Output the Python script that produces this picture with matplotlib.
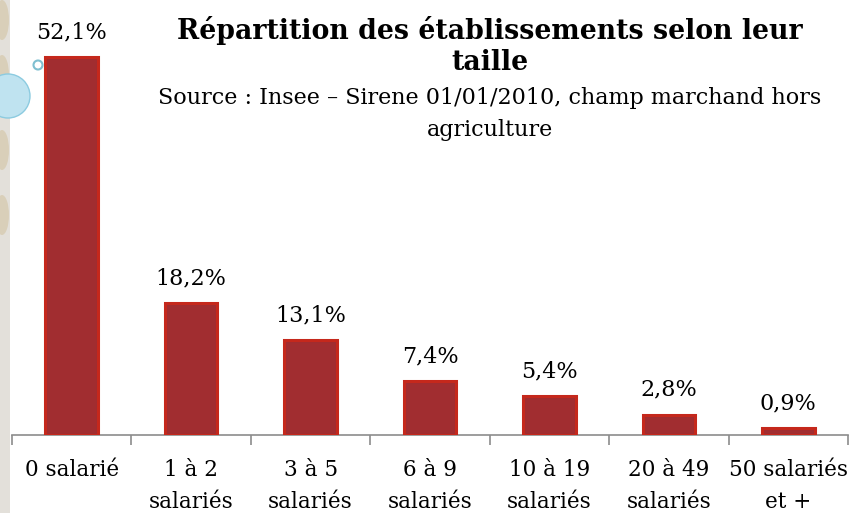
import matplotlib
matplotlib.use("Agg")
import matplotlib.pyplot as plt
from matplotlib.patches import Rectangle, Ellipse

categories = ["0 salarié", "1 à 2\nsalariés", "3 à 5\nsalariés", "6 à 9\nsalariés",
              "10 à 19\nsalariés", "20 à 49\nsalariés", "50 salariés\net +"]
values = [52.1, 18.2, 13.1, 7.4, 5.4, 2.8, 0.9]
value_labels = ["52,1%", "18,2%", "13,1%", "7,4%", "5,4%", "2,8%", "0,9%"]

W, H = 858, 513
fig = plt.figure(figsize=(W / 100, H / 100), dpi=100)
fig.patch.set_facecolor("white")

FONT = "DejaVu Serif"

# left decorative strip
fig.patches.append(Rectangle((0, 0), 10 / W, 1, transform=fig.transFigure,
                             facecolor="#e3e0da", edgecolor="none", zorder=0))
for yc in [20, 75, 150, 215]:
    fig.patches.append(Ellipse((2 / W, 1 - yc / H), 14 / W, 40 / H, transform=fig.transFigure,
                               facecolor="#d6c9ab", edgecolor="none", alpha=0.7, zorder=0))
fig.patches.append(Ellipse((8 / W, 1 - 96 / H), 44 / W, 44 / H, transform=fig.transFigure,
                           facecolor="#bfe3f0", edgecolor="#8ccbe0", lw=1, zorder=5))
fig.patches.append(Ellipse((38 / W, 1 - 65 / H), 9 / W, 9 / H, transform=fig.transFigure,
                           facecolor="white", edgecolor="#7fbfd0", lw=1.5, zorder=5))

base_px = 435
top_px = 15
left_px, right_px = 12, 848
ax = fig.add_axes([left_px / W, (H - base_px) / H, (right_px - left_px) / W, (base_px - top_px) / H])
scale = 7.25
ax.set_ylim(0, (base_px - top_px) / scale)
ax.set_xlim(-0.5, len(values) - 0.5)

x = list(range(len(values)))
ax.bar(x, values, width=0.44, color="#a12d30", edgecolor="#c5281c", linewidth=2.2, zorder=3)

for xi, v, lab in zip(x, values, value_labels):
    ax.annotate(lab, (xi, v), xytext=(0, 10), textcoords="offset points",
                ha="center", va="bottom", fontsize=16, family=FONT, color="black")

for s in ["top", "right", "left"]:
    ax.spines[s].set_visible(False)
ax.spines["bottom"].set_color("#8c8c8c")
ax.spines["bottom"].set_linewidth(1.2)
ax.set_yticks([])
ax.set_xticks([i - 0.5 for i in range(len(values) + 1)], minor=False)
ax.set_xticklabels([])
ax.tick_params(axis="x", length=7, color="#8c8c8c", width=1.2, direction="out")
ax.set_xticks(x, minor=True)
ax.set_xticklabels(categories, minor=True, fontsize=15.5, family=FONT, linespacing=1.62)
ax.tick_params(axis="x", which="minor", length=0, pad=17)

fig.text(490 / W, 1 - 46 / H, "Répartition des établissements selon leur\ntaille",
         ha="center", va="center", fontsize=19.3, fontweight="bold", family=FONT,
         linespacing=1.2)
fig.text(490 / W, 1 - 114 / H, "Source : Insee – Sirene 01/01/2010, champ marchand hors\nagriculture",
         ha="center", va="center", fontsize=16, family=FONT, linespacing=1.6)

fig.savefig("out.png", dpi=100, facecolor="white")
